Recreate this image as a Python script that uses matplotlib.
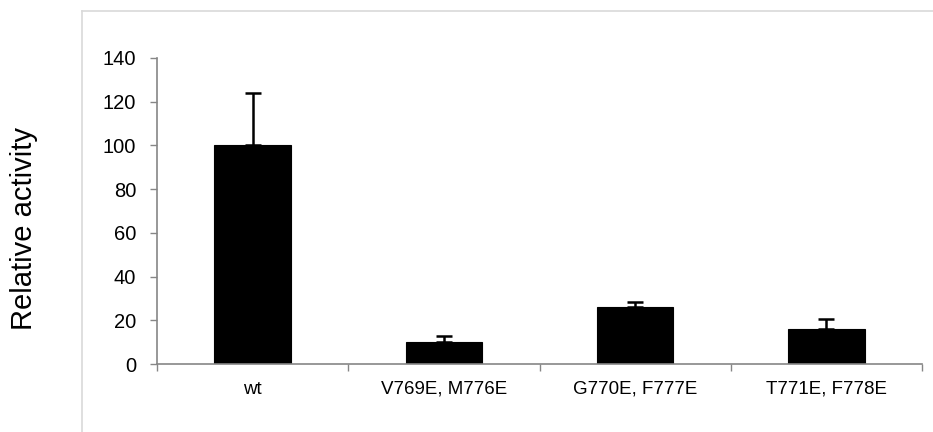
import matplotlib
matplotlib.use("Agg")
import matplotlib.pyplot as plt
from matplotlib.lines import Line2D
import numpy as np

plt.rcParams['font.family'] = ['Liberation Sans', 'DejaVu Sans']

categories = ["wt", "V769E, M776E", "G770E, F777E", "T771E, F778E"]
activity = [100, 10, 26, 16]
error_up = [24, 3, 2.5, 4.5]
y_ticks = [0, 20, 40, 60, 80, 100, 120, 140]

fig = plt.figure(figsize=(9.33, 4.32), dpi=100)
ax = fig.add_axes([157 / 933, 1 - 364 / 432, (922 - 157) / 933, (364 - 58) / 432])

x = np.arange(len(categories))
ax.bar(x, activity, width=0.4, color="black", edgecolor="black", linewidth=0.8, zorder=2)
ax.errorbar(x, activity, yerr=[np.zeros(len(error_up)), error_up], fmt="none",
            ecolor="black", elinewidth=1.8, capsize=5.5, capthick=1.8, zorder=3)

ax.set_xlim(-0.5, len(categories) - 0.5)
ax.set_ylim(0, 140)
ax.set_yticks(y_ticks)
ax.set_yticklabels([str(v) for v in y_ticks], fontsize=14.5)

# category boundaries carry the tick marks, labels sit at the bar centres
ax.set_xticks(np.arange(len(categories) + 1) - 0.5)
ax.set_xticklabels([])
ax.set_xticks(x, minor=True)
ax.set_xticklabels(categories, minor=True, fontsize=13.5)
ax.tick_params(axis="x", which="minor", length=0, pad=12)
ax.tick_params(axis="x", which="major", direction="out", length=5, width=1, color="#868686")
ax.tick_params(axis="y", direction="out", length=5, width=1, color="#868686", pad=10)

for side in ("top", "right"):
    ax.spines[side].set_visible(False)
for side in ("left", "bottom"):
    ax.spines[side].set_color("#868686")
    ax.spines[side].set_linewidth(1.2)

fig.text(24 / 933, 1 - 228 / 432, "Relative activity", rotation=90,
         ha="center", va="center", fontsize=21)

# light frame of the chart area
fig.add_artist(Line2D([82 / 933, 82 / 933], [0, 1 - 11 / 432], color="#d9d9d9", lw=1.2))
fig.add_artist(Line2D([82 / 933, 1], [1 - 11 / 432, 1 - 11 / 432], color="#d9d9d9", lw=1.2))

fig.savefig("out.png", dpi=100)
